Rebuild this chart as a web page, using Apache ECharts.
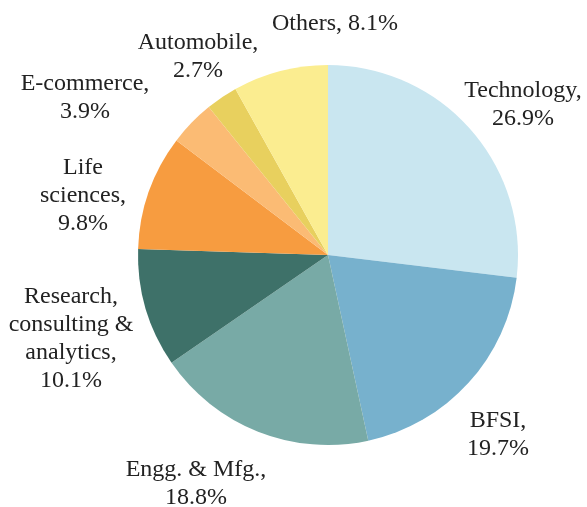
<!DOCTYPE html>
<html>
<head>
<meta charset="utf-8">
<script src="https://cdn.jsdelivr.net/npm/echarts@6/dist/echarts.min.js"></script>
<style>
  html, body { margin: 0; padding: 0; background: #fff; }
  #echartsMain { width: 587px; height: 507px; }
</style>
</head>
<body>
<div id="echartsMain"></div>
<script>
// sectors, clockwise from 12 o'clock
var sectors = ['Technology,', 'BFSI,', 'Engg. & Mfg.,', 'Research,\nconsulting &\nanalytics,', 'Life\nsciences,', 'E-commerce,', 'Automobile,', 'Others,'];
var shares = [26.9, 19.7, 18.8, 10.1, 9.8, 3.9, 2.7, 8.1];
var colors = ['#c9e6f0', '#77b1cd', '#78aaa6', '#3e7169', '#f79c40', '#fbbb74', '#e8d05e', '#fbed90'];

// where each label block is centred (layout only)
var labelCentres = [[523, 105], [498, 435], [196, 484], [71, 339], [83, 196], [85, 98], [198, 57], [335, 24]];

var myChart = echarts.init(document.getElementById('echartsMain'));

var pieData = sectors.map(function (name, i) {
	return {
		name: name,
		value: shares[i],
		itemStyle: { color: colors[i] }
	};
});
// Others is written on one line
pieData[7].label = { formatter: function (p) { return '{t|' + p.name + ' ' + p.value.toFixed(1) + '%}'; } };

var option = {
	animation: false,
	series: [{
		type: 'pie',
		center: [328, 255],
		radius: 190,
		startAngle: 90,
		clockwise: true,
		avoidLabelOverlap: false,
		label: {
			show: true,
			position: 'outside',
			formatter: function (p) {
				var lines = (p.name + '\n' + p.value.toFixed(1) + '%').split('\n');
				return lines.map(function (l) { return '{t|' + l + '}'; }).join('\n');
			},
			rich: {
				t: {
					fontFamily: '"Liberation Serif", "Times New Roman", serif',
					fontSize: 24,
					lineHeight: 28,
					color: '#222',
					align: 'center'
				}
			}
		},
		labelLine: { show: false },
		labelLayout: function (params) {
			var c = labelCentres[params.dataIndex];
			return { x: c[0], y: c[1], align: 'center', verticalAlign: 'middle' };
		},
		emphasis: { disabled: true },
		data: pieData
	}]
};

myChart.setOption(option);
</script>
</body>
</html>
